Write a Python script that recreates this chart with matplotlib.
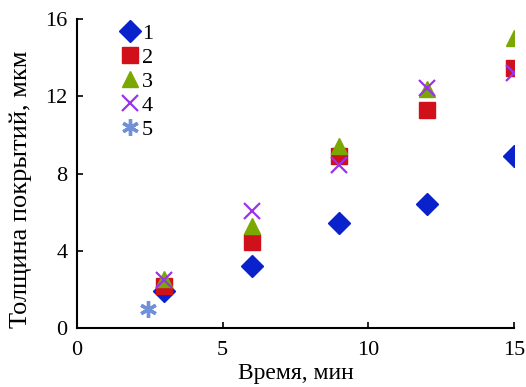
import matplotlib
matplotlib.use("Agg")
import matplotlib.pyplot as plt

plt.rcParams["font.family"] = ["Liberation Serif", "DejaVu Serif"]

# data
time_main = [3, 6, 9, 12, 15]
thick_1 = [1.9, 3.2, 5.45, 6.45, 8.9]
thick_2 = [2.2, 4.45, 8.9, 11.3, 13.45]
thick_3 = [2.55, 5.3, 9.45, 12.4, 15.0]
thick_4 = [2.5, 6.05, 8.45, 12.45, 13.2]
time_5 = [2.45]
thick_5 = [1.0]

labels = ["1", "2", "3", "4", "5"]

fig = plt.figure(figsize=(5.26, 3.87), dpi=100)
ax = fig.add_axes([0.1464, 0.152, 0.8306, 0.799])

ax.plot(time_main, thick_1, "D", color="#0A22CC", ms=11, label=labels[0], ls="none")
ax.plot(time_main, thick_2, "s", color="#D0101A", ms=11, label=labels[1], ls="none")
ax.plot(time_main, thick_3, "^", color="#7BA800", ms=11.5, label=labels[2], ls="none")
ax.plot(time_main, thick_4, "x", color="#9933EE", ms=11, mew=1.6, label=labels[3], ls="none")
ax.plot(time_5, thick_5, marker=(6, 2, 0), color="#7090D8", ms=12, mew=2.4, label=labels[4], ls="none")

ax.set_xlim(0, 15)
ax.set_ylim(0, 16)
ax.set_xticks([0, 5, 10, 15])
ax.set_yticks([0, 4, 8, 12, 16])
ax.spines["top"].set_visible(False)
ax.spines["right"].set_visible(False)
ax.spines["left"].set_linewidth(1.5)
ax.spines["bottom"].set_linewidth(1.5)
ax.tick_params(direction="in", length=4, width=1.2, labelsize=16)
ax.tick_params(axis="x", pad=9)
ax.tick_params(axis="y", pad=7)

ax.set_xlabel("Время, мин", fontsize=17)
ax.xaxis.set_label_coords(0.5, -0.112)
ax.set_ylabel("Толщина покрытий, мкм", fontsize=19)
ax.yaxis.set_label_coords(-0.103, 0.45)

ax.legend(loc="upper left", bbox_to_anchor=(0.065, 1.035), frameon=False, fontsize=16,
          handlelength=0.8, handletextpad=0.15, labelspacing=0.15, borderpad=0.2)

fig.savefig("out.png", dpi=100)
